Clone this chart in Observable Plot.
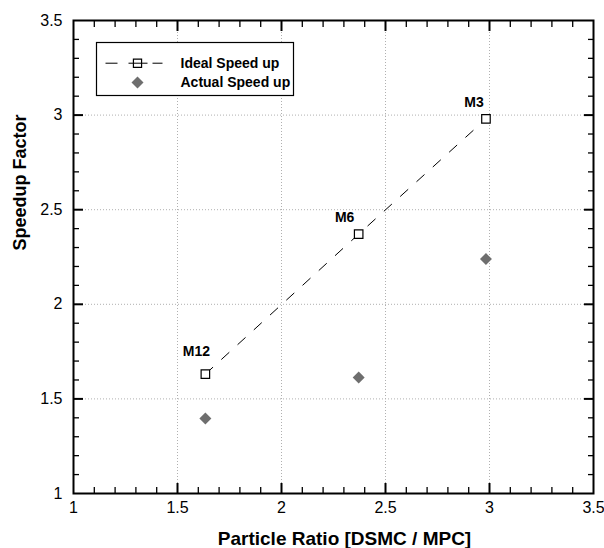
<!DOCTYPE html>
<html>
<head>
<meta charset="utf-8">
<script src="https://cdn.jsdelivr.net/npm/d3@7"></script>
<script src="https://cdn.jsdelivr.net/npm/@observablehq/plot@0.6"></script>
<style>
  html, body { margin: 0; padding: 0; background: #fff; }
  #chart { width: 604px; height: 548px; }
</style>
</head>
<body>
<div id="chart"></div>
<script>
// ---- data ----
const pointLabels = ["M12", "M6", "M3"];
const particleRatio = [1.634, 2.371, 2.983];
const idealSpeedup = [1.631, 2.371, 2.98];
const actualSpeedup = [1.396, 1.613, 2.239];
const seriesNames = ["Ideal Speed up", "Actual Speed up"];
const xTicks = [1, 1.5, 2, 2.5, 3, 3.5];
const yTicks = [1, 1.5, 2, 2.5, 3, 3.5];
const xTitle = "Particle Ratio [DSMC / MPC]";
const yTitle = "Speedup Factor";

const minorTicks = d3.range(10, 36).filter(i => i % 5 !== 0).map(i => i / 10);
const majorInner = [1.5, 2, 2.5, 3];

const W = 604, H = 548;
const mL = 73, mR = 11, mT = 20, mB = 55;
const pw = W - mL - mR, ph = H - mT - mB;
const font = "Liberation Sans, Arial, sans-serif";
const xDom = [1, 3.5], yDom = [1, 3.5];

const rows = pointLabels.map((m, i) => ({m, x: particleRatio[i], ideal: idealSpeedup[i], actual: actualSpeedup[i]}));

const majorLen = 10, minorLen = 6;
const blank = () => "";

// inward ticks via axis marks with negative tick size (no labels)
function inwardTicks(vals, len, sw) {
  return [
    Plot.axisX({anchor: "bottom", ticks: vals, tickSize: -len, tickPadding: 0, tickFormat: blank, label: null, stroke: "#000", strokeWidth: sw}),
    Plot.axisX({anchor: "top", ticks: vals, tickSize: -len, tickPadding: 0, tickFormat: blank, label: null, stroke: "#000", strokeWidth: sw}),
    Plot.axisY({anchor: "left", ticks: vals, tickSize: -len, tickPadding: 0, tickFormat: blank, label: null, stroke: "#000", strokeWidth: sw}),
    Plot.axisY({anchor: "right", ticks: vals, tickSize: -len, tickPadding: 0, tickFormat: blank, label: null, stroke: "#000", strokeWidth: sw})
  ];
}

// legend geometry (px inside frame)
const legLineY = 42.7;
function hseg(x0, x1, yy) {
  return Plot.frame({fill: "#000", stroke: null,
    insetLeft: x0 - mL, insetRight: W - mR - x1,
    insetTop: yy - 0.5, insetBottom: ph - yy - 0.5});
}

const labelOffsets = [{dx: -9, dy: -23}, {dx: -14, dy: -17}, {dx: -12, dy: -16.5}];

const plot = Plot.plot({
  width: W, height: H,
  marginLeft: mL, marginRight: mR, marginTop: mT, marginBottom: mB,
  style: {fontFamily: font, background: "#fff", color: "#000"},
  x: {domain: xDom},
  y: {domain: yDom},
  marks: [
    // grid
    Plot.ruleX(majorInner, {x: d => d, stroke: "#b0b0b0", strokeWidth: 1, strokeDasharray: "1,2"}),
    Plot.ruleY(majorInner, {y: d => d, stroke: "#b0b0b0", strokeWidth: 1, strokeDasharray: "1,2"}),
    // tick labels
    Plot.axisX({ticks: xTicks, tickSize: 0, tickPadding: 8, fontSize: 16, label: null, tickFormat: d => String(d)}),
    Plot.axisY({ticks: yTicks, tickSize: 0, tickPadding: 11, fontSize: 16, label: null, tickFormat: d => String(d)}),
    // ideal line
    Plot.line(rows, {x: "x", y: "ideal", stroke: "#000", strokeWidth: 1, strokeDasharray: "10,12"}),
    Plot.dot(rows, {x: "x", y: "ideal", symbol: "square", r: 4.8, fill: "#fff", stroke: "#000", strokeWidth: 1.2}),
    Plot.dot(rows, {x: "x", y: "actual", symbol: "diamond2", r: 5.4, fill: "#6e6e6e", stroke: "none"}),
    // point labels
    ...labelOffsets.map((o, k) => Plot.text(rows, {
      filter: (d, i) => i === k, x: "x", y: "ideal", text: "m",
      dx: o.dx, dy: o.dy, fontSize: 14, fontWeight: "bold", fill: "#000"
    })),
    // legend box
    Plot.frame({stroke: "#000", strokeWidth: 1.2, fill: "#fff",
      insetLeft: 96 - mL, insetRight: W - mR - 293, insetTop: 42 - mT, insetBottom: H - mB - 95}),
    hseg(105, 117, legLineY),
    hseg(128, 147, legLineY),
    hseg(152, 162, legLineY),
    Plot.dot([seriesNames[0]], {frameAnchor: "top-left", dx: 137 - mL, dy: legLineY, symbol: "square", r: 4.6, fill: "none", stroke: "#000", strokeWidth: 1.2}),
    Plot.dot([seriesNames[1]], {frameAnchor: "top-left", dx: 137 - mL, dy: 82 - mT, symbol: "diamond2", r: 5.4, fill: "#6e6e6e", stroke: "none"}),
    Plot.text([seriesNames[0]], {frameAnchor: "top-left", text: d => d, dx: 180 - mL, dy: legLineY, textAnchor: "start", lineAnchor: "middle", fontSize: 14, fontWeight: "bold", fill: "#000"}),
    Plot.text([seriesNames[1]], {frameAnchor: "top-left", text: d => d, dx: 180 - mL, dy: 82 - mT, textAnchor: "start", lineAnchor: "middle", fontSize: 14, fontWeight: "bold", fill: "#000"}),
    // axis titles
    Plot.text([xTitle], {frameAnchor: "bottom", text: d => d, dx: 11, dy: 45, lineAnchor: "middle", fontSize: 19, fontWeight: "bold", fill: "#000"}),
    Plot.text([yTitle], {frameAnchor: "left", text: d => d, rotate: -90, dx: 20 - mL, dy: -6.5, lineAnchor: "middle", fontSize: 18, fontWeight: "bold", fill: "#000"}),
    // inward ticks on all four sides
    ...inwardTicks(minorTicks, minorLen, 1.3),
    ...inwardTicks(majorInner, majorLen, 2),
    // frame
    Plot.frame({stroke: "#000", strokeWidth: 2})
  ]
});
document.getElementById("chart").appendChild(plot);
</script>
</body>
</html>
